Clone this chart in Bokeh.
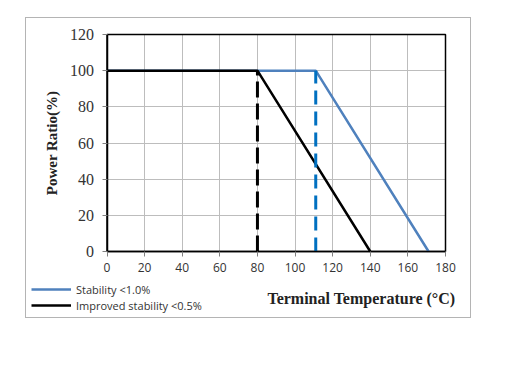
from bokeh.plotting import figure
from bokeh.models import FixedTicker, Label, Legend, LegendItem, Range1d
from bokeh.embed import file_html
from bokeh.resources import INLINE

# Data
std_x = [0, 111, 171]
std_y = [100, 100, 0]
imp_x = [0, 80, 140]
imp_y = [100, 100, 0]
std_knee_x = [111, 111]
imp_knee_x = [80, 80]
knee_y = [0, 100]
x_ticks = [0, 20, 40, 60, 80, 100, 120, 140, 160, 180]
y_ticks = [0, 20, 40, 60, 80, 100, 120]
series_names = ["Stability <1.0%", "Improved stability <0.5%"]

# canvas is 446 x 301; plotting box 0..180 / 0..120 mapped to px 80.5..419 / 233..16
xs = 338.5 / 180.0
ys = 217.0 / 120.0
x_lo, x_hi = x_ticks[0], x_ticks[-1]
y_lo, y_hi = y_ticks[0], y_ticks[-1]

p = figure(width=446, height=301, output_backend="svg", toolbar_location=None,
           x_range=Range1d(x_lo - 80.5 / xs, x_hi + 27.0 / xs),
           y_range=Range1d(y_lo - 68.0 / ys, y_hi + 16.0 / ys),
           min_border=0, min_border_left=0, min_border_right=0,
           min_border_top=0, min_border_bottom=0,
           margin=(17, 0, 0, 25),
           styles={"border": "1px solid #b4b4b4", "box-sizing": "border-box"})
p.background_fill_color = "white"
p.border_fill_color = "white"
p.outline_line_color = None

p.xaxis.fixed_location = y_lo
p.yaxis.fixed_location = x_lo
p.xaxis.bounds = (x_lo, x_hi)
p.yaxis.bounds = (y_lo, y_hi)
p.xaxis.ticker = FixedTicker(ticks=x_ticks)
p.yaxis.ticker = FixedTicker(ticks=y_ticks)
p.xaxis.minor_tick_line_color = None
p.yaxis.minor_tick_line_color = None
for ax in (p.xaxis, p.yaxis):
    ax.axis_line_color = "black"
    ax.axis_line_width = 1.5
    ax.major_tick_line_color = "#808080"
    ax.major_tick_in = 0
    ax.major_tick_out = 5
p.xaxis.major_label_text_font = "Open Sans"
p.xaxis.major_label_text_font_size = "12px"
p.xaxis.major_label_text_color = "#333333"
p.xaxis.major_label_standoff = 6
p.yaxis.major_label_text_font = "Liberation Serif"
p.yaxis.major_label_text_font_size = "16px"
p.yaxis.major_label_text_color = "#333333"
p.yaxis.major_label_standoff = 8
p.yaxis.axis_label = "Power Ratio(%)"
p.yaxis.axis_label_text_font = "Liberation Serif"
p.yaxis.axis_label_text_font_style = "bold"
p.yaxis.axis_label_text_font_size = "15px"
p.yaxis.axis_label_text_color = "#222222"
p.yaxis.axis_label_standoff = 8

p.grid.grid_line_color = "#bdbdbd"
p.grid.grid_line_width = 1
p.xgrid.bounds = (x_lo, x_hi)
p.ygrid.bounds = (y_lo, y_hi)
p.xgrid.cross_bounds = (y_lo, y_hi)
p.ygrid.cross_bounds = (x_lo, x_hi)

# plot box border
p.quad(left=[x_lo], right=[x_hi], bottom=[y_lo], top=[y_hi],
       fill_color=None, line_color="black", line_width=1.5)

r_std = p.line(std_x, std_y, line_color="#4f81bd", line_width=2.5)
r_imp = p.line(imp_x, imp_y, line_color="black", line_width=2.5)
p.line(std_knee_x, knee_y, line_color="#0070c0", line_width=3, line_dash="14 7")
p.line(imp_knee_x, knee_y, line_color="black", line_width=3, line_dash="16 6")

legend = Legend(items=[LegendItem(label=series_names[0], renderers=[r_std]),
                       LegendItem(label=series_names[1], renderers=[r_imp])],
                location=(5, 6), orientation="vertical",
                glyph_width=40, glyph_height=16, label_standoff=5, spacing=0,
                padding=0, margin=0, border_line_color=None,
                background_fill_alpha=0,
                label_text_font="Open Sans", label_text_font_size="11px",
                label_text_color="#333333", label_height=16)
p.add_layout(legend, "center")

p.add_layout(Label(x=135.3, y=-26, text="Terminal Temperature (°C)",
                   text_font="Liberation Serif", text_font_style="bold",
                   text_font_size="16px", text_align="center", text_baseline="middle",
                   text_color="#222222"))

open("out.html", "w").write(file_html(p, INLINE))
